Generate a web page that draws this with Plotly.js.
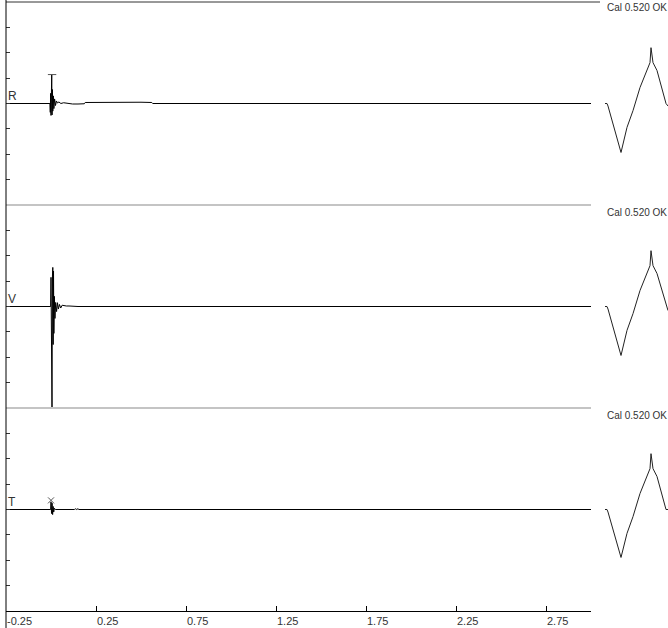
<!DOCTYPE html>
<html>
<head>
<meta charset="utf-8">
<script src="https://cdn.plot.ly/plotly-3.0.1.min.js"></script>
<style>html,body{margin:0;padding:0;background:#fff;}#chart{width:668px;height:628px;}</style>
</head>
<body>
<div id="chart"></div>
<script>
// Channel names and calibration text
const channels = ["R", "V", "T"];
const calLabel = "Cal 0.520 OK";

// R channel (time s, amplitude in tick units)
const rTime = [-0.25, -0.006, -0.004, -0.002, 0.000, 0.002, 0.004, 0.006, 0.008, 0.010, 0.013, 0.016, 0.020, 0.025, 0.030, 0.036, 0.044, 0.055, 0.070, 0.090, 0.120, 0.150, 0.185, 0.190, 0.300, 0.400, 0.500, 0.560, 0.565, 3.0];
const rVals = [0, 0, -0.35, 0.4, -0.47, 0.6, 1.14, -0.45, 0.55, -0.3, 0.3, -0.2, 0.18, -0.08, 0.1, 0.02, 0.06, 0.0, 0.03, 0.0, -0.02, -0.02, -0.01, 0.04, 0.05, 0.05, 0.05, 0.04, 0, 0];

// V channel
const vTime = [-0.25, -0.002, 0.000, 0.003, 0.0056, 0.008, 0.010, 0.012, 0.014, 0.016, 0.019, 0.022, 0.026, 0.031, 0.036, 0.041, 0.047, 0.054, 0.062, 0.072, 0.085, 0.100, 0.120, 0.140, 0.150, 3.0];
const vVals = [0, 0, 1.15, -1.0, -4.05, 1.2, 1.54, -1.5, 1.4, -1.06, 0.4, -0.47, 0.16, -0.2, 0.15, -0.1, 0.08, -0.06, 0.05, 0.03, 0.02, 0.02, 0.01, 0.01, 0, 0];

// T channel
const tTime = [-0.25, -0.002, 0.000, 0.003, 0.006, 0.009, 0.012, 0.015, 0.019, 0.024, 0.130, 0.135, 0.140, 0.150, 0.155, 0.160, 3.0];
const tVals = [0, 0, 0.3, -0.16, 0.25, -0.2, 0.12, -0.1, 0.05, 0, 0, 0.03, 0, 0.03, 0, 0, 0];

// Picked peaks per channel
const rPeak = {t: [0.006], v: [1.14]};
const vPeak = {t: [0.0056], v: [-4.05]};
const tPeak = {t: [0.000], v: [0.36]};

// Calibration pulses (sample index, amplitude)
const calTime = [14, 16, 17, 30, 36, 42, 49, 54, 59, 60, 62, 66, 71, 75, 77];
const calR = [0, 0, -0.1, -1.93, -0.94, -0.28, 0.63, 1.1, 1.61, 2.2, 1.61, 1.3, 0.63, 0, -0.1];
const calV = [0, 0, -0.1, -1.93, -0.94, -0.28, 0.63, 1.1, 1.61, 2.2, 1.61, 1.3, 0.63, 0.05, -0.16];
const calT = [0, 0, -0.1, -1.89, -0.94, -0.28, 0.63, 1.1, 1.61, 2.2, 1.61, 1.3, 0.63, 0, 0];

// X tick values
const xTicks = [-0.25, 0.25, 0.75, 1.25, 1.75, 2.25, 2.75];
const xTickText = ["-0.25", "0.25", "0.75", "1.25", "1.75", "2.25", "2.75"];

const lineStyle = {color: "#000", width: 1};
const yNames = ["y", "y2", "y3"];
const series = [[rTime, rVals], [vTime, vVals], [tTime, tVals]];
const peaks = [rPeak, vPeak, tPeak];
const cals = [calR, calV, calT];
const peakSymbols = ["line-ew", "circle", "x-thin"];

const traces = [];
series.forEach((s, i) => {
  traces.push({x: s[0], y: s[1], xaxis: "x", yaxis: yNames[i], mode: "lines", line: lineStyle, hoverinfo: "skip"});
  traces.push({x: peaks[i].t, y: peaks[i].v, xaxis: "x", yaxis: yNames[i], mode: "markers", cliponaxis: false,
    marker: {symbol: peakSymbols[i], size: i === 1 ? 3 : 6, color: "#555", line: {color: "#555", width: 1}}, hoverinfo: "skip"});
  traces.push({x: calTime, y: cals[i], xaxis: "x2", yaxis: yNames[i], mode: "lines", line: {color: "#222", width: 1}, hoverinfo: "skip"});
});

const mainFrac = 585 / 662;
const yBase = {range: [-4, 4], dtick: 1, tick0: 0, ticks: "inside", ticklen: 4, tickcolor: "#333", showticklabels: false,
  showline: false, zeroline: false, showgrid: false, anchor: "x", fixedrange: true};

const annotations = [];
const panelTops = [1, 2/3, 1/3];
channels.forEach((c, i) => {
  annotations.push({text: c, xref: "x", yref: yNames[i], x: -0.25, y: 0, xanchor: "left", yanchor: "bottom", xshift: 0, yshift: -1,
    showarrow: false, font: {family: "Liberation Sans, Arial, sans-serif", size: 12, color: "#333"}});
  annotations.push({text: calLabel, xref: "paper", yref: "paper", x: 1, y: panelTops[i], xanchor: "right", yanchor: "top", xshift: 1, yshift: i === 0 ? 2 : 0,
    showarrow: false, font: {family: "Liberation Sans, Arial, sans-serif", size: 10, color: "#333"}});
});

const shapes = [
  {type: "line", xref: "paper", yref: "paper", x0: 0, x1: mainFrac, y0: 2/3, y1: 2/3, line: {color: "#c4c4c4", width: 2}},
  {type: "line", xref: "paper", yref: "paper", x0: 0, x1: mainFrac, y0: 1/3, y1: 1/3, line: {color: "#c4c4c4", width: 2}},
  {type: "line", xref: "paper", yref: "paper", x0: 0, x1: 594 / 662, y0: 1, y1: 1, line: {color: "#333", width: 1}},
  {type: "line", xref: "paper", yref: "paper", x0: 0, x1: 0, y0: -17 / 609, y1: 1.004, line: {color: "#000", width: 1}}
];

const layout = {
  width: 668, height: 628,
  margin: {l: 6, r: 0, t: 2, b: 17},
  paper_bgcolor: "#fff", plot_bgcolor: "#fff",
  showlegend: false,
  font: {family: "Liberation Sans, Arial, sans-serif", size: 11, color: "#333"},
  xaxis: {domain: [0, mainFrac], range: [-0.25, 3.0], anchor: "y3", tickvals: xTicks, ticktext: xTickText,
    ticks: "inside", ticklen: 5, tickcolor: "#000", showline: true, linecolor: "#000", linewidth: 1,
    zeroline: false, showgrid: false, ticklabelposition: "outside right", tickfont: {size: 11, color: "#333"}, fixedrange: true},
  xaxis2: {domain: [mainFrac, 1], range: [0, 77], visible: false, anchor: "y", fixedrange: true},
  yaxis: Object.assign({}, yBase, {domain: [2/3, 1]}),
  yaxis2: Object.assign({}, yBase, {domain: [1/3, 2/3]}),
  yaxis3: Object.assign({}, yBase, {domain: [0, 1/3]}),
  annotations: annotations,
  shapes: shapes
};

Plotly.newPlot("chart", traces, layout, {staticPlot: true, displayModeBar: false});
</script>
</body>
</html>
